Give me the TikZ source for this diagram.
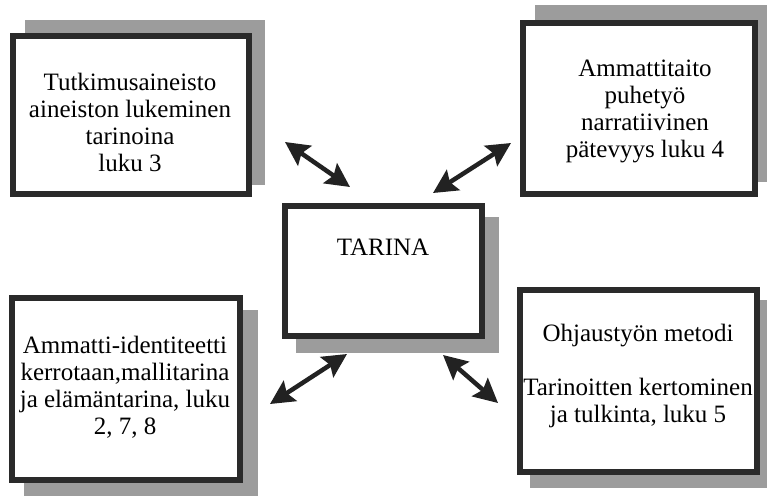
\documentclass[tikz,border=0pt]{standalone}
\usepackage{fontspec}
\setmainfont{Liberation Serif}
\usetikzlibrary{arrows.meta}
\definecolor{bord}{HTML}{2A2A2A}
\definecolor{shad}{HTML}{9C9C9C}
\definecolor{arr}{HTML}{222222}
\tikzset{
  shadowbox/.style={fill=shad, draw=none},
  mainbox/.style={draw=bord, fill=white, line width=6pt, rectangle, inner sep=0pt},
  label/.style={align=center, font=\fontsize{25}{27}\selectfont, text=black, inner sep=0pt},
  link/.style={draw=arr, line width=4.5pt, {Stealth[length=24pt,width=24pt,inset=4pt]}-{Stealth[length=24pt,width=24pt,inset=4pt]}}
}
\begin{document}
\begin{tikzpicture}[x=1pt,y=-1pt]
\useasboundingbox[fill=white] (0,0) rectangle (767,496);
% shadows
\fill[shadowbox] (25,20) rectangle (265,185);
\fill[shadowbox] (535,5) rectangle (767,182);
\fill[shadowbox] (296,217) rectangle (499,353);
\fill[shadowbox] (24,310) rectangle (258,496);
\fill[shadowbox] (530,300) rectangle (767,488);
% boxes
\node[mainbox, minimum width=236pt, minimum height=158pt] (b1) at (131,115) {};
\node[mainbox, minimum width=232pt, minimum height=171pt] (b2) at (639,108.5) {};
\node[mainbox, minimum width=197pt, minimum height=130pt] (c) at (383.5,271) {};
\node[mainbox, minimum width=228pt, minimum height=182pt] (b3) at (126,389) {};
\node[mainbox, minimum width=237pt, minimum height=182pt] (b4) at (638.5,381) {};
% texts
\node[label] (t1) at (130,122) {Tutkimusaineisto\\aineiston lukeminen\\tarinoina\\luku 3};
\node[label] (t2) at (645,111) {Ammattitaito\\puhetyö\\narratiivinen\\pätevyys luku 4};
\node[label] (tc) at (383,247) {TARINA};
\node[label] (t3) at (125,387) {Ammatti-identiteetti\\kerrotaan,mallitarina\\ja elämäntarina, luku\\2, 7, 8};
\node[label] (t4) at (638,376) {Ohjaustyön metodi\\[27pt]Tarinoitten kertominen\\ja tulkinta, luku 5};
% arrow ends
\coordinate (a1s) at (285,142);
\coordinate (a1e) at (350,187);
\coordinate (a2s) at (511,143);
\coordinate (a2e) at (433,193);
\coordinate (a3s) at (347,354);
\coordinate (a3e) at (270,404);
\coordinate (a4s) at (443,355);
\coordinate (a4e) at (498,403);
\draw[link] (a1s) -- (a1e);
\draw[link] (a2s) -- (a2e);
\draw[link] (a3s) -- (a3e);
\draw[link] (a4s) -- (a4e);
\end{tikzpicture}
\end{document}
